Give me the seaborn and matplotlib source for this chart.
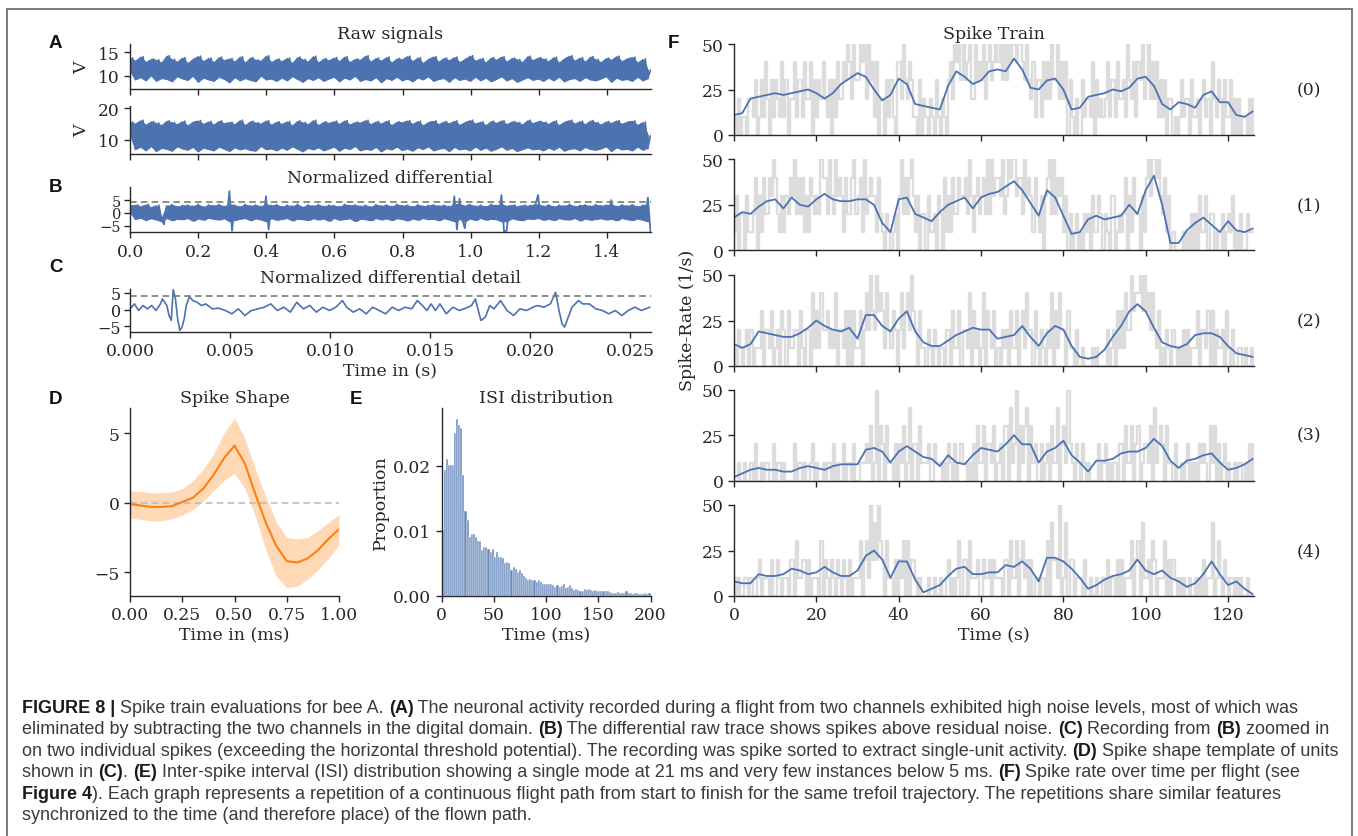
import matplotlib
matplotlib.use("Agg")
import numpy as np
import pandas as pd
import matplotlib.pyplot as plt
import seaborn as sns
from matplotlib.patches import Rectangle
from matplotlib.font_manager import FontProperties

# ---------------- data ----------------

# (A) raw signals, two channels (V), evenly sampled over 0 .. 1.528 s
raw_a = [11.0, 13.8, 9.2, 13.2, 9.7, 14.1, 9.0, 12.9, 10.1, 13.6, 8.9, 13.4, 9.5, 12.8, 9.3, 14.3, 8.8, 13.5, 9.9, 13.0,
         9.4, 13.9, 9.1, 12.7, 10.0, 13.6, 8.7, 14.2, 9.6, 13.1, 9.2, 13.8, 8.9, 12.9, 9.8, 14.0, 9.3, 13.3, 8.6, 13.7,
         9.7, 13.0, 9.0, 14.1, 9.5, 12.8, 9.1, 13.9, 8.8, 13.4, 10.0, 13.2, 9.2, 14.3, 9.4, 12.9, 8.9, 13.6, 9.6, 13.1,
         9.0, 13.8, 9.9, 12.7, 9.3, 14.0, 8.7, 13.5, 9.5, 13.0, 9.1, 14.2, 9.7, 12.8, 8.9, 13.7, 9.4, 13.3, 9.8, 13.9,
         8.8, 13.1, 9.6, 14.1, 9.2, 12.9, 10.0, 13.6, 8.9, 13.4, 9.3, 14.3, 9.0, 13.0, 9.7, 13.8, 8.6, 13.2, 9.5, 14.0,
         9.1, 12.8, 9.8, 13.7, 9.0, 13.5, 9.4, 14.2, 8.8, 13.1, 9.6, 13.9, 9.2, 12.7, 9.9, 13.6, 8.9, 14.1, 9.3, 13.0,
         9.5, 13.8, 8.7, 13.3, 9.7, 14.0, 9.1, 12.9, 9.4, 13.6, 8.9, 14.3, 9.8, 13.2, 9.0, 13.7, 9.6, 12.8, 8.8, 13.9,
         9.3, 13.4, 9.9, 14.1, 9.0, 13.0, 9.5, 13.8, 8.7, 13.5, 9.2, 12.9, 9.7, 14.2, 9.1, 13.3, 9.4, 13.9, 8.9, 13.6,
         9.6, 13.1, 9.0, 14.0, 9.8, 12.8, 8.8, 13.7, 9.3, 14.3, 9.5, 13.2, 8.9, 13.9, 9.7, 13.0, 9.2, 14.1, 9.0, 13.5,
         9.4, 12.9, 9.9, 13.8, 8.7, 13.4, 9.6, 14.2, 9.1, 13.1, 9.3, 13.7, 8.9, 14.0, 9.8, 12.8, 9.0, 13.6, 9.5, 11.2]
raw_b = [11.5, 15.6, 7.0, 15.1, 7.8, 16.2, 6.6, 14.7, 8.0, 15.8, 6.4, 15.3, 7.4, 14.6, 7.1, 16.0, 6.5, 15.5, 7.9, 14.9,
         7.2, 15.9, 6.8, 14.5, 7.7, 15.7, 6.3, 16.1, 7.5, 15.0, 7.0, 15.8, 6.6, 14.8, 7.8, 16.0, 7.1, 15.2, 6.4, 15.6,
         7.6, 14.9, 6.9, 16.2, 7.3, 14.6, 6.7, 15.9, 6.5, 15.4, 8.0, 15.1, 7.0, 16.1, 7.2, 14.7, 6.6, 15.7, 7.5, 15.0,
         6.8, 15.8, 7.9, 14.5, 7.1, 16.0, 6.3, 15.5, 7.4, 14.9, 6.9, 16.2, 7.6, 14.6, 6.6, 15.7, 7.2, 15.3, 7.8, 15.9,
         6.5, 15.0, 7.5, 16.1, 7.0, 14.8, 8.0, 15.6, 6.6, 15.4, 7.1, 16.2, 6.8, 14.9, 7.7, 15.8, 6.3, 15.1, 7.3, 16.0,
         6.9, 14.6, 7.8, 15.7, 6.7, 15.5, 7.2, 16.1, 6.5, 15.0, 7.6, 15.9, 7.0, 14.5, 7.9, 15.6, 6.6, 16.0, 7.1, 14.9,
         7.4, 15.8, 6.4, 15.2, 7.7, 16.0, 6.9, 14.7, 7.2, 15.6, 6.6, 16.2, 7.8, 15.1, 6.8, 15.7, 7.5, 14.6, 6.5, 15.9,
         7.1, 15.3, 7.9, 16.1, 6.8, 14.9, 7.4, 15.8, 6.4, 15.5, 7.0, 14.8, 7.6, 16.2, 6.9, 15.2, 7.2, 15.9, 6.6, 15.6,
         7.5, 15.0, 6.8, 16.0, 7.8, 14.6, 6.5, 15.7, 7.1, 16.2, 7.3, 15.1, 6.6, 15.9, 7.7, 14.9, 7.0, 16.1, 6.8, 15.5,
         7.2, 14.8, 7.9, 15.8, 6.4, 15.3, 7.6, 16.1, 6.9, 15.0, 7.1, 15.7, 6.6, 16.0, 7.8, 14.7, 6.8, 15.6, 7.4, 11.3]
raw_end = 1.528

# (B) normalized differential, same time span
diff_sig = [0.2, 2.8, -2.4, 3.1, -1.9, 2.5, -2.8, 3.3, -2.1, 2.2, -2.6, 3.0, -2.2, -4.5, 2.7, -2.0, 3.2, -2.9, 2.4, -2.3,
            2.9, -2.5, 3.0, -2.0, 2.6, -3.1, 3.3, -2.2, 2.3, -2.7, 3.1, -1.9, 2.8, -2.4, 3.2, -2.6, 2.5, -2.1, 8.5, -7.0,
            3.0, -2.8, 2.4, -2.3, 3.3, -2.0, 2.7, -2.9, 3.1, -2.2, 2.5, -2.6, 6.5, -6.5, 2.9, -2.1, 3.2, -2.7, 2.4, -2.4,
            3.0, -2.0, 2.6, -3.0, 3.3, -2.3, 2.2, -2.5, 3.1, -2.8, 2.7, -2.1, 3.2, -2.6, 2.5, -2.2, 3.0, -3.1, 2.8, -2.0,
            2.4, -2.7, 3.3, -2.4, 2.9, -2.1, 3.1, -3.2, 2.6, -2.3, 3.0, -2.5, 2.3, -2.9, 3.2, -2.0, 2.7, -2.6, 3.1, -2.2,
            2.5, -2.8, 3.3, -2.1, 2.8, -2.4, 3.0, -3.0, 2.4, -2.2, 3.2, -2.7, 2.6, -2.0, 2.9, -2.5, 3.1, -2.3, 2.7, -2.9,
            3.0, -2.1, 2.5, -2.6, 6.5, -6.5, 5.5, -2.4, -6.0, 2.8, 3.2, -2.2, 2.6, -2.8, 3.0, -2.0, 2.4, -2.7, 3.3, -2.3,
            2.9, -2.5, 7.0, -7.2, -7.0, 2.7, -2.1, 3.1, -2.6, 2.5, -2.9, 3.0, -2.2, 2.8, -2.4, 3.2, 7.0, -2.0, 2.6, -2.7,
            3.1, -2.3, 2.4, -2.8, 3.0, -2.1, 2.7, -2.5, 3.3, -2.6, 2.5, -2.0, 2.9, -3.0, 3.1, -2.2, 2.6, -2.7, 3.2, -2.4,
            2.8, -2.1, 3.0, -2.6, 5.0, -2.3, 2.5, -2.9, 3.1, -2.0, 2.7, -2.5, 3.2, -2.8, 2.4, -2.2, 3.0, -2.7, 6.0, -7.5]
diff_band = (-3.3, 3.4)   # residual-noise band, the spikes stick out of it
threshold = 4.1

# (C) detail of the differential
detail_ms = [0.0, 0.22, 0.43, 0.65, 0.87, 1.08, 1.30, 1.52, 1.62, 1.84, 1.95, 2.06, 2.16, 2.27, 2.38, 2.49, 2.60, 2.71,
             2.81, 2.97, 3.14, 3.35, 3.57, 3.79, 4.11, 4.44, 4.76, 5.09, 5.41, 5.74, 6.06, 6.39, 6.71, 7.03, 7.36, 7.68,
             8.01, 8.33, 8.66, 8.98, 9.31, 9.63, 9.96, 10.28, 10.61, 10.82, 11.15, 11.47, 11.80, 12.12, 12.45, 12.77,
             13.10, 13.42, 13.74, 14.07, 14.35, 14.61, 14.83, 15.04, 15.26, 15.48, 15.80, 16.13, 16.45, 16.77, 17.06,
             17.25, 17.42, 17.53, 17.75, 17.97, 18.18, 18.51, 18.83, 19.16, 19.48, 19.81, 20.13, 20.35, 20.67, 21.00,
             21.26, 21.43, 21.58, 21.71, 21.86, 22.08, 22.40, 22.62, 22.94, 23.27, 23.59, 23.92, 24.24, 24.57, 24.89,
             25.22, 25.54, 25.97]
detail_val = [0.2, 1.7, -0.3, 1.2, 0.2, 1.2, -0.3, 1.7, 3.2, 1.2, -1.8, -3.3, 6.0, 3.2, -2.8, -6.3, -5.3, -2.8,
              1.2, 3.9, 2.7, 2.2, 1.2, 1.7, 0.2, 0.4, -0.3, -1.3, 0.2, -1.8, -0.3, 0.2, 0.7, 1.7, -0.3, 0.7,
              -0.8, 2.2, 0.2, 1.2, -0.8, 0.7, -0.3, 0.7, 2.7, 0.7, -0.8, 0.2, -1.3, 0.7, -0.3, -1.3,
              0.7, -0.3, 0.7, 0.2, 2.7, 1.2, -0.3, 1.7, -0.3, 1.7, -1.3, 0.7, -0.3, 0.4, 1.2,
              3.2, -0.8, -3.3, -2.3, 1.2, 0.2, 2.7, -0.3, -1.8, 0.2, -0.3, 0.7, 1.2, 0.7, 1.7,
              5.2, -0.3, -4.3, -5.3, -2.8, 0.7, 2.7, 1.7, 1.7, 0.2, -0.3, -1.3, -0.3, -1.8, -0.3,
              0.7, -0.3, 0.7]

# (D) spike shape template (ms)
shape_t = [0.0, 0.05, 0.1, 0.15, 0.2, 0.25, 0.3, 0.35, 0.4, 0.45, 0.5, 0.55, 0.6, 0.65, 0.7, 0.75, 0.8, 0.85, 0.9, 0.95, 1.0]
shape_mean = [-0.1, -0.2, -0.3, -0.3, -0.25, 0.05, 0.35, 1.0, 2.0, 3.2, 4.1, 2.8, 0.6, -1.45, -3.1, -4.2, -4.3, -4.0, -3.4, -2.6, -1.9]
shape_hi = [0.85, 0.8, 0.72, 0.72, 0.77, 1.0, 1.56, 2.4, 3.5, 5.0, 6.1, 4.6, 2.4, 0.4, -1.4, -2.5, -2.6, -2.5, -2.0, -1.4, -0.85]
shape_lo = [-1.1, -1.2, -1.3, -1.3, -1.15, -0.9, -0.5, 0.1, 0.85, 1.6, 2.1, 1.0, -1.0, -3.4, -5.3, -6.1, -6.0, -5.5, -4.8, -4.0, -3.0]

# (E) ISI distribution, 2 ms bins from 0 to 200 ms
isi_prop = [0.0101, 0.0194, 0.0210, 0.0202, 0.0202, 0.0202, 0.0251, 0.0272, 0.0263, 0.0258,
            0.0186, 0.0130, 0.0117, 0.0091, 0.0095, 0.0096, 0.0091, 0.0084, 0.0084, 0.0071,
            0.0076, 0.0075, 0.0073, 0.0068, 0.0072, 0.0060, 0.0067, 0.0060, 0.0060, 0.0058,
            0.0050, 0.0053, 0.0050, 0.0040, 0.0045, 0.0041, 0.0037, 0.0040, 0.0035, 0.0030,
            0.0027, 0.0025, 0.0026, 0.0024, 0.0024, 0.0022, 0.0024, 0.0021, 0.0019, 0.0019,
            0.0018, 0.0019, 0.0018, 0.0017, 0.0014, 0.0017, 0.0014, 0.0015, 0.0018, 0.0012,
            0.0014, 0.0017, 0.0013, 0.0009, 0.0010, 0.0009, 0.0007, 0.0008, 0.0010, 0.0009,
            0.0010, 0.0009, 0.0008, 0.0009, 0.0008, 0.0008, 0.0007, 0.0007, 0.0007, 0.0008,
            0.0006, 0.0005, 0.0005, 0.0005, 0.0006, 0.0005, 0.0005, 0.0004, 0.0007, 0.0004,
            0.0004, 0.0003, 0.0004, 0.0005, 0.0003, 0.0003, 0.0003, 0.0004, 0.0003, 0.0005]
isi_bin = 2

# (F) spike rate per flight: smoothed rate every 2 s, binned rate (x10 /s) every 0.5 s
rate_0 = [11, 12, 20, 21, 22, 23, 22, 23, 24, 25, 23, 20, 23, 28, 31, 34, 32, 25, 19, 22, 31, 28, 17, 16, 15, 14, 27, 35, 32, 28,
          30, 35, 36, 35, 42, 36, 26, 25, 30, 31, 25, 14, 15, 21, 22, 23, 25, 24, 26, 31, 32, 27, 17, 14, 18, 17, 15, 22, 24, 18,
          18, 11, 10, 13]
rate_1 = [18, 21, 20, 24, 27, 28, 23, 29, 25, 24, 28, 31, 28, 27, 27, 28, 28, 25, 15, 10, 28, 29, 20, 18, 16, 21, 25, 27, 29, 23,
          29, 31, 32, 35, 38, 33, 26, 19, 33, 29, 19, 9, 10, 17, 19, 17, 18, 19, 25, 20, 33, 41, 25, 4, 4, 11, 15, 18, 14, 10,
          16, 11, 10, 12]
rate_2 = [12, 10, 12, 19, 18, 17, 16, 16, 18, 21, 25, 22, 20, 19, 21, 15, 28, 28, 22, 19, 26, 30, 19, 13, 11, 11, 14, 17, 19, 21,
          20, 20, 15, 16, 17, 22, 16, 11, 18, 22, 20, 11, 5, 4, 5, 9, 16, 22, 30, 34, 30, 21, 13, 11, 10, 12, 17, 18, 18, 16,
          11, 7, 6, 5]
rate_3 = [2, 4, 6, 7, 6, 6, 5, 5, 7, 8, 7, 6, 8, 9, 9, 9, 17, 18, 16, 10, 16, 19, 16, 13, 12, 8, 14, 10, 9, 14,
          18, 17, 16, 20, 25, 20, 20, 10, 16, 18, 22, 14, 10, 5, 11, 11, 12, 15, 16, 16, 18, 23, 19, 11, 7, 11, 12, 14, 15, 10,
          6, 7, 9, 12]
rate_4 = [8, 7, 7, 12, 11, 11, 12, 15, 14, 12, 13, 16, 13, 11, 11, 14, 22, 25, 20, 10, 19, 19, 9, 2, 4, 6, 11, 15, 16, 12,
          12, 13, 13, 17, 16, 19, 15, 8, 21, 21, 19, 15, 10, 4, 6, 9, 11, 12, 14, 20, 14, 12, 14, 10, 8, 5, 7, 12, 19, 12,
          6, 8, 4, 1]
binned_0 = ("1020 1102 2130 1314 2031 3214 1302 2413 3142 2403 1324 2130 3142 2435 4253 3545 2534 1402 2031 3104 "
            "4253 2431 1030 2102 1031 0210 3425 4535 3452 2534 3524 5345 4535 3545 5455 4353 2413 3142 4253 3524 "
            "2403 1020 0312 2140 3121 2413 3142 2315 3241 4352 3524 2413 1302 2010 1312 2031 1202 3120 4213 2031 "
            "1302 0201 1020 2120")
binned_1 = ("1302 2031 1240 3142 2435 4213 1324 3524 2413 1432 3254 4253 2534 3142 2452 3415 2343 3142 1021 0120 "
            "3524 2453 1302 2031 1203 2041 3142 2433 4253 1342 3425 2534 4352 3545 5344 2534 3142 1303 4525 2434 "
            "1302 0120 1021 2031 1320 2103 3012 1240 3142 2031 4535 5453 2413 0100 0010 1020 2031 1302 2010 0201 "
            "2130 1020 0211 1201")
binned_2 = ("1021 0120 2011 1302 2130 1203 2031 1220 3102 2041 3142 2312 1402 2130 3031 1302 4253 2534 3142 1320 "
            "2413 4253 2031 1021 0210 1102 2031 1302 2140 3120 1403 2130 1021 2031 1302 3142 2031 0210 2140 3142 "
            "2031 1020 0100 0010 1000 0201 2031 3142 2534 4535 3424 2130 1021 0210 1020 2011 1302 2130 3021 1203 "
            "1020 0110 1001 0100")
binned_3 = ("0010 0100 1020 0101 1002 0110 1000 0201 1010 0120 1001 0110 2010 0201 1020 0111 2130 1503 2031 1020 "
            "2130 1402 2031 1120 0211 1010 2102 0121 1010 2031 1302 2130 1203 3041 2503 1340 3120 0201 2031 1402 "
            "3152 1021 0210 1000 0201 2010 1102 2031 1302 3012 2130 4123 2031 1020 0101 2010 1021 2103 1302 0120 "
            "1001 0110 1020 2011")
binned_4 = ("1010 0110 1001 2011 1020 0210 1102 2031 1220 2011 1030 2102 1021 0210 2011 1302 3152 4253 2031 1020 "
            "2130 3022 1010 0010 0100 1001 2010 1302 2031 1120 0211 2021 1102 2031 1302 3120 2011 0110 3042 2150 "
            "1402 2011 1020 0100 1001 0201 1020 2011 1302 3041 1203 2011 1302 0210 1010 0100 1010 2011 4013 1021 "
            "0110 1010 0100 0001")
rates = [rate_0, rate_1, rate_2, rate_3, rate_4]
binned = [binned_0, binned_1, binned_2, binned_3, binned_4]
flight_end = 126.3

caption = [
    [("FIGURE 8 | ", True), ("Spike train evaluations for bee A. ", False), ("(A)", True),
     (" The neuronal activity recorded during a flight from two channels exhibited high noise levels, most of which was", False)],
    [("eliminated by subtracting the two channels in the digital domain. ", False), ("(B)", True),
     (" The differential raw trace shows spikes above residual noise. ", False), ("(C)", True),
     (" Recording from ", False), ("(B)", True), (" zoomed in", False)],
    [("on two individual spikes (exceeding the horizontal threshold potential). The recording was spike sorted to extract "
      "single-unit activity. ", False), ("(D)", True), (" Spike shape template of units", False)],
    [("shown in ", False), ("(C)", True), (". ", False), ("(E)", True),
     (" Inter-spike interval (ISI) distribution showing a single mode at 21 ms and very few instances below 5 ms. ", False),
     ("(F)", True), (" Spike rate over time per flight (see", False)],
    [("Figure 4", True), ("). Each graph represents a repetition of a continuous flight path from start to finish for the "
                          "same trefoil trajectory. The repetitions share similar features", False)],
    [("synchronized to the time (and therefore place) of the flown path.", False)],
]

# ---------------- styling ----------------
BLUE = "#4c72b0"
ORANGE = "#ff7f0e"
W, H = 1358, 837

sns.set_theme(style="ticks", rc={
    "axes.linewidth": 1.0, "axes.edgecolor": ".15",
    "xtick.major.size": 4, "ytick.major.size": 4,
    "xtick.major.width": 1.0, "ytick.major.width": 1.0,
    "xtick.labelsize": 12.3, "ytick.labelsize": 12.3,
    "axes.titlesize": 12.5, "axes.labelsize": 12.5,
    "xtick.color": ".15", "ytick.color": ".15", "text.color": ".15",
})
plt.rcParams["font.family"] = ["DejaVu Serif"]


def box(l, t, r, b):
    return [l / W, 1 - b / H, (r - l) / W, (b - t) / H]


def noise_trace(ax, values, end, lw, band=None):
    """Dense recording: envelope of successive low/high samples plus the trace itself."""
    t = np.linspace(0, end, len(values))
    v = np.asarray(values)
    lo, hi = np.minimum(v[0::2], v[1::2]), np.maximum(v[0::2], v[1::2])
    if band is not None:
        lo, hi = np.clip(lo, *band), np.clip(hi, *band)
    ax.fill_between(t[0::2], lo, hi, color=BLUE, lw=0.8, edgecolor=BLUE)
    sns.lineplot(x=t, y=values, ax=ax, color=BLUE, lw=lw, estimator=None, sort=False)


fig = plt.figure(figsize=(W / 100, H / 100), dpi=100)

# ---- A: raw signals ----
raw_ticks = [0.0, 0.2, 0.4, 0.6, 0.8, 1.0, 1.2, 1.4]
v_label_x = (90 - 130) / 520.5
ax_a1 = fig.add_axes(box(130, 45, 650.5, 90))
noise_trace(ax_a1, raw_a, raw_end, 1.2)
ax_a1.set(xlim=(0, raw_end), ylim=(7.15, 16.8), yticks=[10, 15], xticks=raw_ticks)
ax_a1.tick_params(labelbottom=False)
ax_a1.set_ylabel("V")
ax_a1.yaxis.set_label_coords(v_label_x, 0.5)
ax_a1.set_title("Raw signals", pad=4)

ax_a2 = fig.add_axes(box(130, 107, 650.5, 155))
noise_trace(ax_a2, raw_b, raw_end, 1.2)
ax_a2.set(xlim=(0, raw_end), ylim=(5.45, 20.7), yticks=[10, 20], xticks=raw_ticks)
ax_a2.tick_params(labelbottom=False)
ax_a2.set_ylabel("V")
ax_a2.yaxis.set_label_coords(v_label_x, 0.5)

# ---- B: normalized differential ----
ax_b = fig.add_axes(box(130, 188.3, 650.5, 233.3))
noise_trace(ax_b, diff_sig, raw_end, 1.3, band=diff_band)
ax_b.axhline(threshold, color="#7a7a7a", lw=1.2, ls=(0, (4, 2.5)))
ax_b.set(xlim=(0, raw_end), ylim=(-7.6, 10), yticks=[-5, 0, 5], xticks=raw_ticks)
ax_b.set_xticklabels([f"{v:.1f}" for v in raw_ticks])
ax_b.tick_params(axis="y", labelsize=10.5, pad=2.5)
ax_b.set_title("Normalized differential", pad=4)

# ---- C: detail ----
ax_c = fig.add_axes(box(130, 290, 650.5, 333))
sns.lineplot(x=np.array(detail_ms) / 1000, y=detail_val, ax=ax_c, color=BLUE, lw=1.2,
             estimator=None, sort=False)
ax_c.axhline(threshold, color="#7a7a7a", lw=1.2, ls=(0, (4, 2.5)))
c_ticks = [0.0, 0.005, 0.01, 0.015, 0.02, 0.025]
ax_c.set(xlim=(0, 0.026), ylim=(-6.8, 6.2), yticks=[-5, 0, 5], xticks=c_ticks)
ax_c.set_xticklabels([f"{v:.3f}" for v in c_ticks])
ax_c.tick_params(axis="y", labelsize=11.5, pad=2.5)
ax_c.set_xlabel("Time in (s)", labelpad=2)
ax_c.set_title("Normalized differential detail", pad=5)

# ---- D: spike shape ----
ax_d = fig.add_axes(box(130, 409, 339, 597))
ax_d.fill_between(shape_t, shape_lo, shape_hi, color=ORANGE, alpha=0.3, lw=0)
ax_d.axhline(0, color="#bdbdbd", lw=1.2, ls=(0, (4, 2.5)))
sns.lineplot(x=shape_t, y=shape_mean, ax=ax_d, color=ORANGE, lw=1.5, estimator=None)
d_ticks = [0.0, 0.25, 0.5, 0.75, 1.0]
ax_d.set(xlim=(0, 1), ylim=(-6.7, 6.8), yticks=[-5, 0, 5], xticks=d_ticks)
ax_d.set_xticklabels([f"{v:.2f}" for v in d_ticks])
ax_d.set_xlabel("Time in (ms)", labelpad=2)
ax_d.set_title("Spike Shape", pad=4)

# ---- E: ISI distribution ----
ax_e = fig.add_axes(box(441.5, 409, 650.5, 597))
isi_df = pd.DataFrame({
    "isi": np.arange(len(isi_prop)) * isi_bin + isi_bin / 2,
    "prop": isi_prop,
})
sns.histplot(data=isi_df, x="isi", weights="prop", binwidth=isi_bin, binrange=(0, len(isi_prop) * isi_bin),
             ax=ax_e, color=BLUE, alpha=0.85, edgecolor="white", linewidth=0.35)
ax_e.set(xlim=(0, 200), ylim=(0, 0.0289), yticks=[0, 0.01, 0.02], xticks=[0, 50, 100, 150, 200])
ax_e.set_yticklabels(["0.00", "0.01", "0.02"])
ax_e.set_ylabel("Proportion")
ax_e.yaxis.set_label_coords((389 - 441.5) / 209, 0.5)
ax_e.set_xlabel("Time (ms)", labelpad=2)
ax_e.set_title("ISI distribution", pad=4)

# ---- F: spike train per flight ----
f_tops = [45, 160.3, 276, 390.7, 506]
f_axes = []
for k, (top, rate, code) in enumerate(zip(f_tops, rates, binned)):
    ax = fig.add_axes(box(734, top, 1254, top + 91))
    levels = [int(c) * 10 for c in code.replace(" ", "")]
    sns.lineplot(x=np.arange(len(levels)) * 0.5, y=levels, ax=ax, color="#dcdcdc", lw=1.7,
                 drawstyle="steps-post", estimator=None, sort=False)
    sns.lineplot(x=np.arange(len(rate)) * 2, y=rate, ax=ax, color=BLUE, lw=1.3,
                 estimator=None, sort=False)
    ax.set(xlim=(0, flight_end), ylim=(0, 50), yticks=[0, 25, 50], xticks=[0, 20, 40, 60, 80, 100, 120])
    ax.set_xlabel("")
    ax.set_ylabel("")
    if k < 4:
        ax.tick_params(labelbottom=False)
    fig.text(1309 / W, 1 - (top + 45.5) / H, f"({k})", ha="center", va="center", fontsize=12.5)
    f_axes.append(ax)
f_axes[0].set_title("Spike Train", pad=4)
f_axes[-1].set_xlabel("Time (s)", labelpad=2)
fig.text(687 / W, 1 - 320 / H, "Spike-Rate (1/s)", rotation=90, ha="center", va="center", fontsize=12.5)

sns.despine(fig=fig)

# ---- panel letters ----
letter_font = dict(family=["Liberation Sans", "DejaVu Sans"], weight="bold", fontsize=13.5,
                   ha="center", va="center", color="#111111")
for s, x, y in [("A", 55.5, 44), ("B", 55.5, 188), ("C", 55.5, 267), ("D", 55.5, 400),
                ("E", 355.6, 400), ("F", 673, 44)]:
    fig.text(x / W, 1 - y / H, s, **letter_font)

# ---- outer frame ----
fig.patches.append(Rectangle((7 / W, -0.02), (1352 - 7) / W, 1.02 - 10 / H, transform=fig.transFigure,
                             fill=False, edgecolor="#707070", lw=1.3))

# ---- caption (mixed bold / regular runs) ----
renderer = fig.canvas.get_renderer()
cap_reg = FontProperties(family=["Liberation Sans", "DejaVu Sans"], size=12.95)
cap_bold = FontProperties(family=["Liberation Sans", "DejaVu Sans"], size=12.95, weight="bold")


def run_width(s, prop):
    w1 = renderer.get_text_width_height_descent("x" + s + "x", prop, ismath=False)[0]
    w0 = renderer.get_text_width_height_descent("xx", prop, ismath=False)[0]
    return w1 - w0


baseline = 713
for line in caption:
    x = 22.0
    for s, bold in line:
        prop = cap_bold if bold else cap_reg
        fig.text(x / W, 1 - baseline / H, s, fontproperties=prop, va="baseline", ha="left",
                 color="#1a1a1a" if bold else "#3a3a3a")
        x += run_width(s, prop)
    baseline += 21.5

fig.savefig("out.png", dpi=100, facecolor="white")
